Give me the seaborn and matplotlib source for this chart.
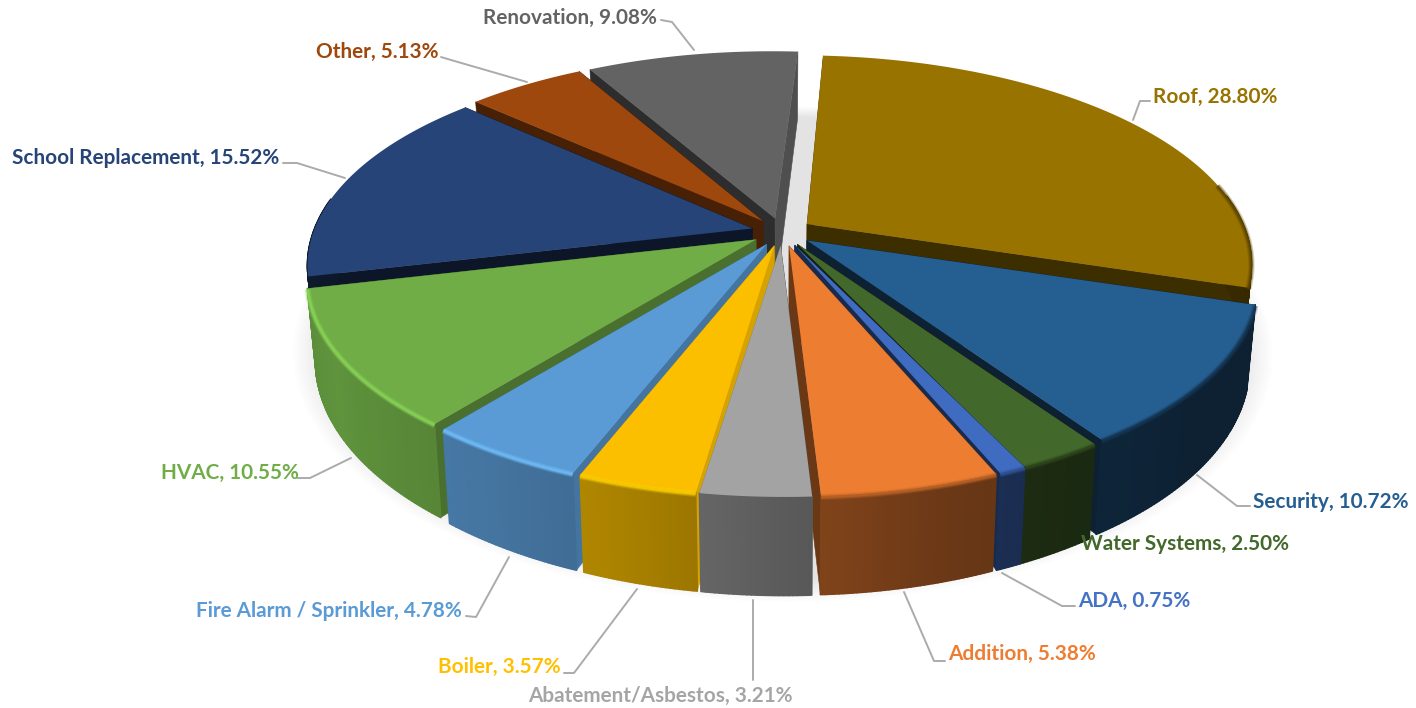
"""Exploded 3D-look pie of project shares, drawn on a pixel-sized axes."""

import numpy as np
import matplotlib.pyplot as plt
import seaborn as sns
from matplotlib.collections import PolyCollection
from matplotlib.colors import to_rgb

# Data, clockwise from the top
categories = ["Roof", "Security", "Water Systems", "ADA", "Addition",
              "Abatement/Asbestos", "Boiler", "Fire Alarm / Sprinkler",
              "HVAC", "School Replacement", "Other", "Renovation"]
shares = [28.80, 10.72, 2.50, 0.75, 5.38, 3.21, 3.57, 4.78, 10.55, 15.52, 5.13, 9.08]

palette = ["#997300", "#255E91", "#43682B", "#3F6BC0", "#ED7D31", "#A3A3A3",
           "#FBBF00", "#5B9BD5", "#70AD47", "#264478", "#9E480E", "#636363"]
label_colors = ["#997300", "#255E91", "#43682B", "#4472C4", "#ED7D31", "#A5A5A5",
                "#FFC000", "#5B9BD5", "#70AD47", "#264478", "#9E480E", "#636363"]

# Shading of the two cut faces (start edge, end edge) for each slice
face_shade = [(0.6, 0.40), (0.35, 0.35), (0.30, 0.30), (0.45, 0.40), (0.45, 0.45), (0.5, 0.8),
              (0.85, 0.85), (0.75, 0.75), (0.65, 0.65), (0.33, 0.33), (0.45, 0.45), (0.45, 0.8)]
# Rim stroke: above 1 brightens, below 1 darkens
rim_shade = [0.6, 0.6, 0.7, 0.8, 0.8, 1.0, 1.1, 1.25, 1.25, 1.0, 1.0, 1.0]
# Extra gain on the outer wall
wall_gain = [1, 1, 1, 1, 1, 1, 1, 1, 1, 0.45, 1, 1]

# Label left edge, label centre y, leader line in pixels
label_x = [1153, 1253, 1081, 1078, 948, 528, 438, 196, 161, 12, 316, 483]
label_y = [97, 502, 544, 601, 654, 696, 667, 611, 473, 158, 52, 18]
leaders = [[(1150, 101), (1140, 101), (1133, 120)],
           [(1250, 506), (1237, 506), (1197, 475)],
           None,
           [(1075, 606), (1062, 606), (1002, 573)],
           [(945, 661), (934, 661), (904, 592)],
           [(753, 680), (753, 600)],
           [(564, 673), (574, 673), (637, 589)],
           [(466, 616), (476, 617), (509, 557)],
           [(297, 478), (310, 478), (351, 458)],
           [(283, 163), (297, 163), (345, 178)],
           [(441, 57), (451, 60), (527, 82)],
           [(661, 20), (672, 22), (694, 50)]]

# Projection settings
X0, Y0 = 782, 232
BX, BY = 439, 201
PERSP = 0.176
DEPTH = 80
EXPLODE = 0.07
START = 3.7
SHEAR = -4


def project(x, y, z=0.0):
    """Ground coordinates (unit disc) and depth z (0 top, 1 bottom) to pixels."""
    y = np.asarray(y)
    w = 1 + PERSP * y
    shrink = 1 - 0.018 * z
    return X0 + BX * np.asarray(x) / w * shrink + SHEAR * y, Y0 - BY * y / w + DEPTH * z / w


def side_shade(theta):
    """Brightness of the outer wall at a clockwise angle in degrees."""
    return np.interp(theta % 360, [0, 110, 130, 150, 165, 183, 197, 212, 240, 270, 360],
                     [0.4, 0.35, 0.35, 0.4, 0.46, 0.58, 0.68, 0.75, 0.85, 0.8, 0.6])


def scaled(color, factor):
    return tuple(np.minimum(np.array(to_rgb(color)) * factor, 1))


def draw_slice(ax, a1, a2, color, faces, rim, gain):
    mid = np.radians((a1 + a2) / 2)
    ox, oy = EXPLODE * np.sin(mid), EXPLODE * np.cos(mid)
    ang = np.radians(np.arange(a1, a2 + 0.5, 0.5))
    if ang[-1] < np.radians(a2):
        ang = np.append(ang, np.radians(a2))
    rx, ry = ox + np.sin(ang), oy + np.cos(ang)

    # cut faces
    for edge, shade in ((0, faces[0]), (-1, faces[1])):
        xs = [ox, rx[edge], rx[edge], ox]
        ys = [oy, ry[edge], ry[edge], oy]
        zs = [0, 0, 1, 1]
        px, py = zip(*[project(x, y, z) for x, y, z in zip(xs, ys, zs)])
        ax.fill(px, py, color=scaled(color, shade), lw=0.4, zorder=2)

    # outer wall, one narrow quad per angle step, front-facing part only
    tx, ty = project(rx, ry, 0)
    bx, by = project(rx, ry, 1)
    quads, colors = [], []
    for i in range(len(ang) - 1):
        if np.cos(ang[i]) > 0.15:
            continue
        quads.append([(tx[i], ty[i]), (tx[i + 1], ty[i + 1]), (bx[i + 1], by[i + 1]), (bx[i], by[i])])
        colors.append(scaled(color, side_shade(np.degrees(ang[i])) * gain))
    ax.add_collection(PolyCollection(quads, facecolors=colors, edgecolors=colors, linewidths=1.2, zorder=2))

    # top face
    cx, cy = project(ox, oy, 0)
    ax.fill(np.r_[cx, tx], np.r_[cy, ty], color=color, lw=0, zorder=2)

    # soft rim on the arcs that face the viewer
    front = ry < 0.25
    if front.any() and rim != 1.0:
        for width, alpha in ((4.5, 0.25), (3.0, 0.4), (1.6, 0.7)):
            ax.plot(tx[front], ty[front] + 1.0, color=scaled(color, rim), lw=width, alpha=alpha,
                    solid_capstyle="butt", zorder=2)


def main():
    sns.set_theme(style="white")
    plt.rcParams["font.family"] = ["Lato", "DejaVu Sans"]

    fig = plt.figure(figsize=(14.16, 7.08), dpi=100)
    ax = fig.add_axes([0, 0, 1, 1])
    ax.set_xlim(0, 1416)
    ax.set_ylim(708, 0)
    ax.axis("off")

    # shadow under the pie
    t = np.radians(np.arange(0, 361, 3))
    for grow in np.linspace(0.0, 0.07, 14):
        sx, sy = project((1.05 + grow) * np.sin(t), (1.05 + grow) * np.cos(t) + 0.03, 1.0)
        ax.fill(sx, sy, color="black", alpha=0.009, lw=0, zorder=1)

    edges = START + 3.6 * np.cumsum(np.r_[0, shares]) * 100 / sum(shares)
    mids = (edges[:-1] + edges[1:]) / 2
    order = np.argsort(-np.cos(np.radians(mids)))  # back slices first
    for i in order:
        draw_slice(ax, edges[i], edges[i + 1], palette[i], face_shade[i], rim_shade[i], wall_gain[i])

    for i, name in enumerate(categories):
        if leaders[i] is not None:
            lx, ly = zip(*leaders[i])
            ax.plot(lx, ly, color="#ABABAB", lw=1.4, zorder=3)
        ax.text(label_x[i], label_y[i], f"{name}, {shares[i]:.2f}%", color=label_colors[i],
                fontsize=14.95, fontweight="bold", ha="left", va="center", zorder=4)

    fig.savefig("out.png", dpi=100)


if __name__ == "__main__":
    main()
